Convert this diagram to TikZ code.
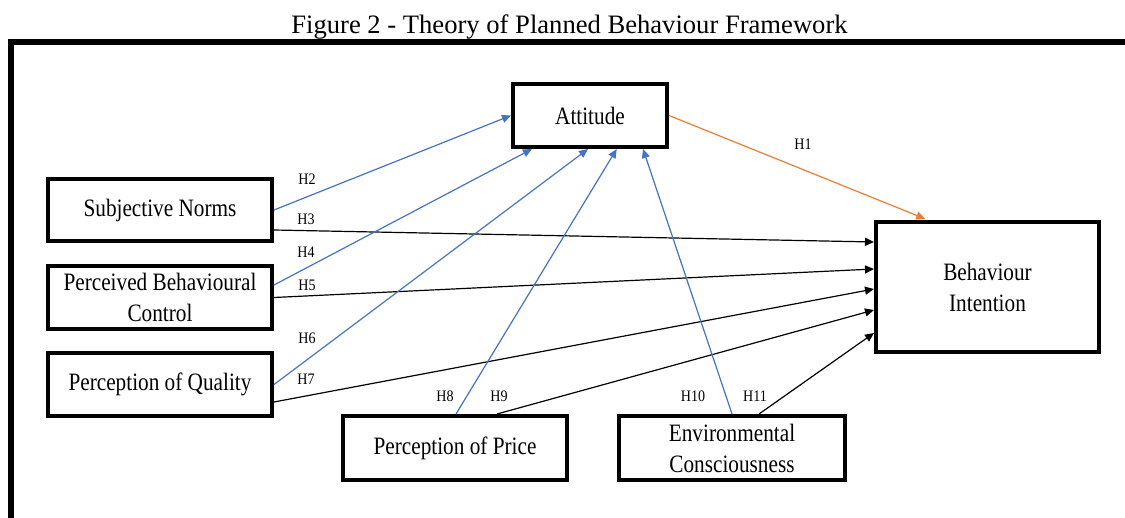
\documentclass[tikz,border=0pt]{standalone}
\usepackage{fontspec}
\setmainfont{Liberation Serif}
\newfontfamily\boxfont{Liberation Serif}[FakeStretch=0.85]
\newfontfamily\labfont{Liberation Serif}[FakeStretch=0.88]
\usetikzlibrary{arrows.meta,calc}
\definecolor{tblue}{HTML}{4472C4}
\definecolor{torange}{HTML}{ED7D31}
\begin{document}
\begin{tikzpicture}[x=1bp,y=-1bp,
  box/.style={draw,line width=4bp,outer sep=2bp,inner sep=0pt,align=center,
    font=\boxfont\fontsize{25bp}{31bp}\selectfont},
  lab/.style={font=\labfont\fontsize{16bp}{18bp}\selectfont,inner sep=0pt},
  tip/.style={-{Triangle[length=9bp,width=8bp]}},
  blk/.style={tip,black,line width=1.2bp},
  blu/.style={tip,tblue,line width=1.2bp},
  org/.style={tip,torange,line width=1.2bp}]
\useasboundingbox (0,0) rectangle (1125,518);
% title
\node[font=\fontsize{26.6bp}{30bp}\selectfont,inner sep=0pt] (title) at (569.5,27.5) {Figure 2 - Theory of Planned Behaviour Framework};
% frame
\draw[line width=6bp] (10.5,530) -- (10.5,42) -- (1140,42);
% boxes
\node[box,minimum width=154bp,minimum height=63bp] (att) at (590,115.5) {Attitude};
\node[box,minimum width=224bp,minimum height=62bp] (sn) at (160,210) {Subjective Norms};
\node[box,minimum width=224bp,minimum height=63bp] (pbc) at (160,297.5) {Perceived Behavioural\\Control};
\node[box,minimum width=224bp,minimum height=63bp] (poq) at (160,384.5) {Perception of Quality};
\node[box,minimum width=224bp,minimum height=64bp] (pop) at (455,448) {Perception of Price};
\node[box,minimum width=226bp,minimum height=64bp] (env) at (732,448) {Environmental\\Consciousness};
\node[box,minimum width=223bp,minimum height=130bp] (bi) at (987.5,287) {Behaviour\\Intention};
% connectors
\draw[org,shorten >=3bp] (att.east) -- ($(bi.north)+(-59.5,0)$);
\draw[blu] (sn.east) -- (att.west);
\draw[blk] ($(sn.east)+(0,20)$) -- ($(bi.west)+(0,-45)$);
\draw[blu] ($(pbc.east)+(0,-12.5)$) -- ($(att.south)+(-58,0)$);
\draw[blk] (pbc.east) -- ($(bi.west)+(0,-18)$);
\draw[blu] (poq.east) -- ($(att.south)+(-2,0)$);
\draw[blk] ($(poq.east)+(0,17.5)$) -- ($(bi.west)+(0,2)$);
\draw[blu] ($(pop.north)+(1,0)$) -- ($(att.south)+(26.7,0)$);
\draw[blk] ($(pop.north)+(42,0)$) -- ($(bi.west)+(0,23)$);
\draw[blu] (env.north) -- ($(att.south)+(53,0)$);
\draw[blk] ($(env.north)+(27,0)$) -- ($(bi.west)+(0,46)$);
% labels
\node[lab] (h1) at (803,144) {H1};
\node[lab] (h2) at (307,179) {H2};
\node[lab] (h3) at (306,219) {H3};
\node[lab] (h4) at (306,252) {H4};
\node[lab] (h5) at (307,285) {H5};
\node[lab] (h6) at (307,338) {H6};
\node[lab] (h7) at (306,379) {H7};
\node[lab] (h8) at (445,396) {H8};
\node[lab] (h9) at (499,396) {H9};
\node[lab] (h10) at (693,396) {H10};
\node[lab] (h11) at (755,396) {H11};
\end{tikzpicture}
\end{document}
